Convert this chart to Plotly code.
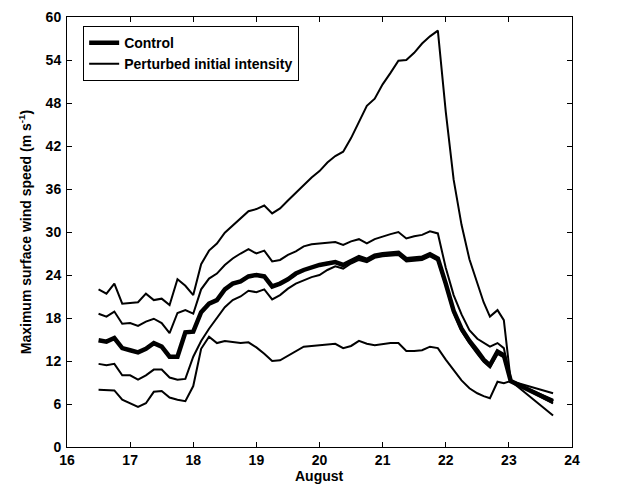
import plotly.graph_objects as go

# Time (days in August)
days = [16.5 + 0.125 * i for i in range(49)] + [22.6, 22.7, 22.82, 22.92, 23.03, 23.7]

control = [14.9, 14.7, 15.2, 13.8, 13.5, 13.2, 13.7, 14.5, 14.0, 12.6,
           12.6, 16.0, 16.1, 18.8, 20.0, 20.5, 22.0, 22.8, 23.1, 23.8,
           24.0, 23.8, 22.4, 22.8, 23.4, 24.2, 24.7, 25.1, 25.4, 25.6,
           25.8, 25.4, 26.0, 26.5, 26.1, 26.7, 26.9, 27.0, 27.1, 26.2,
           26.3, 26.4, 26.9, 26.3, 22.8, 19.0, 16.5, 14.8, 13.4,
           12.2, 11.4, 13.3, 12.8, 9.2, 6.3]

pert_strong = [22.0, 21.4, 22.8, 20.0, 20.1, 20.2, 21.4, 20.5, 20.7, 19.8,
               23.4, 22.5, 21.2, 25.5, 27.4, 28.4, 29.9, 30.9, 31.8, 32.9,
               33.2, 33.7, 32.6, 33.3, 34.4, 35.5, 36.6, 37.6, 38.5, 39.7,
               40.6, 41.2, 43.1, 45.4, 47.6, 48.6, 50.6, 52.2, 53.9, 54.0,
               55.0, 56.3, 57.3, 58.1, 46.8, 37.3, 31.0, 26.2, 22.9,
               20.2, 18.2, 19.1, 17.7, 9.2, 4.4]

pert_plus = [18.6, 18.2, 18.9, 17.2, 17.3, 16.9, 17.5, 17.9, 17.3, 15.9,
             18.7, 19.1, 18.6, 22.0, 23.5, 24.2, 25.4, 26.3, 27.0, 27.6,
             27.0, 27.4, 25.9, 26.1, 26.8, 27.3, 28.0, 28.3, 28.4, 28.5,
             28.6, 28.2, 28.7, 29.0, 28.4, 29.0, 29.4, 29.7, 30.0, 29.1,
             29.4, 29.6, 30.1, 29.8, 25.0, 21.2, 18.5, 16.3, 15.1,
             14.6, 14.0, 14.5, 13.8, 9.2, 6.6]

pert_minus = [11.6, 11.4, 11.6, 10.0, 10.0, 9.4, 10.0, 10.8, 10.8, 9.7,
              9.4, 9.5, 12.6, 14.8, 16.5, 18.0, 19.5, 20.5, 21.0, 21.8,
              21.6, 22.0, 20.6, 21.2, 22.1, 22.8, 23.3, 23.7, 24.0, 24.7,
              25.2, 24.9, 25.6, 26.1, 25.8, 26.4, 26.6, 26.7, 26.8, 25.9,
              26.0, 26.1, 26.6, 26.0, 22.5, 18.7, 16.2, 14.5, 13.0,
              11.9, 11.1, 13.0, 12.5, 9.2, 6.1]

pert_weak = [8.0, 8.0, 7.9, 6.6, 6.1, 5.6, 6.1, 7.7, 7.8, 6.9,
             6.6, 6.4, 8.5, 13.7, 15.4, 14.5, 14.8, 14.6, 14.5, 14.6,
             13.9, 13.0, 12.0, 12.1, 12.7, 13.3, 14.0, 14.1, 14.2, 14.4,
             14.4, 13.8, 14.1, 14.8, 14.4, 14.2, 14.4, 14.5, 14.5, 13.4,
             13.4, 13.5, 14.0, 13.8, 12.2, 10.7, 9.3, 8.2, 7.5,
             7.1, 6.8, 9.1, 8.9, 9.2, 7.5]

x_ticks = [16, 17, 18, 19, 20, 21, 22, 23, 24]
y_ticks = [0, 6, 12, 18, 24, 30, 36, 42, 48, 54, 60]

FONT = "Liberation Sans, Arial, sans-serif"
TITLE_FONT = dict(family=FONT, size=14, color="black", weight="bold")

fig = go.Figure()
perturbed = [pert_strong, pert_plus, pert_minus, pert_weak]
for k, series in enumerate(perturbed):
    fig.add_trace(go.Scatter(
        x=days, y=series, mode="lines",
        line=dict(color="black", width=2),
        name="Perturbed initial intensity",
        legendgroup="pert", showlegend=(k == 0), legendrank=2,
    ))
fig.add_trace(go.Scatter(
    x=days, y=control, mode="lines",
    line=dict(color="black", width=4.5),
    name="Control", legendrank=1,
))

axis_common = dict(
    showgrid=False, zeroline=False, showline=True, linecolor="black",
    linewidth=1, mirror="ticks", ticks="inside", ticklen=5, tickwidth=1,
    tickcolor="black", automargin=False,
    tickfont=dict(family=FONT, size=14, color="black", weight="bold"),
)

# The page body adds an 8 px offset, so the figure is sized to fit the window.
fig.update_layout(
    width=616, height=477,
    margin=dict(l=59, r=52, t=9, b=38, autoexpand=False),
    paper_bgcolor="white", plot_bgcolor="white",
    showlegend=True,
    legend=dict(
        x=0.032, y=0.979, xanchor="left", yanchor="top",
        bgcolor="white", bordercolor="black", borderwidth=1,
        font=dict(family=FONT, size=14, color="black", weight="bold"),
        tracegroupgap=0, itemwidth=30,
    ),
    xaxis=dict(
        range=[16, 24], tickvals=x_ticks, ticktext=[str(v) for v in x_ticks],
        ticklabelstandoff=0,
        **axis_common,
    ),
    yaxis=dict(
        range=[0, 60], tickvals=y_ticks, ticktext=[str(v) for v in y_ticks],
        ticklabelstandoff=2,
        title=dict(text="Maximum surface wind speed (m s<sup>-1</sup>)", standoff=10,
                   font=TITLE_FONT),
        **axis_common,
    ),
    annotations=[dict(
        text="August", xref="paper", yref="paper", x=0.5, y=-0.068,
        xanchor="center", yanchor="middle", showarrow=False, font=TITLE_FONT,
    )],
)

fig.write_html("out.html")
